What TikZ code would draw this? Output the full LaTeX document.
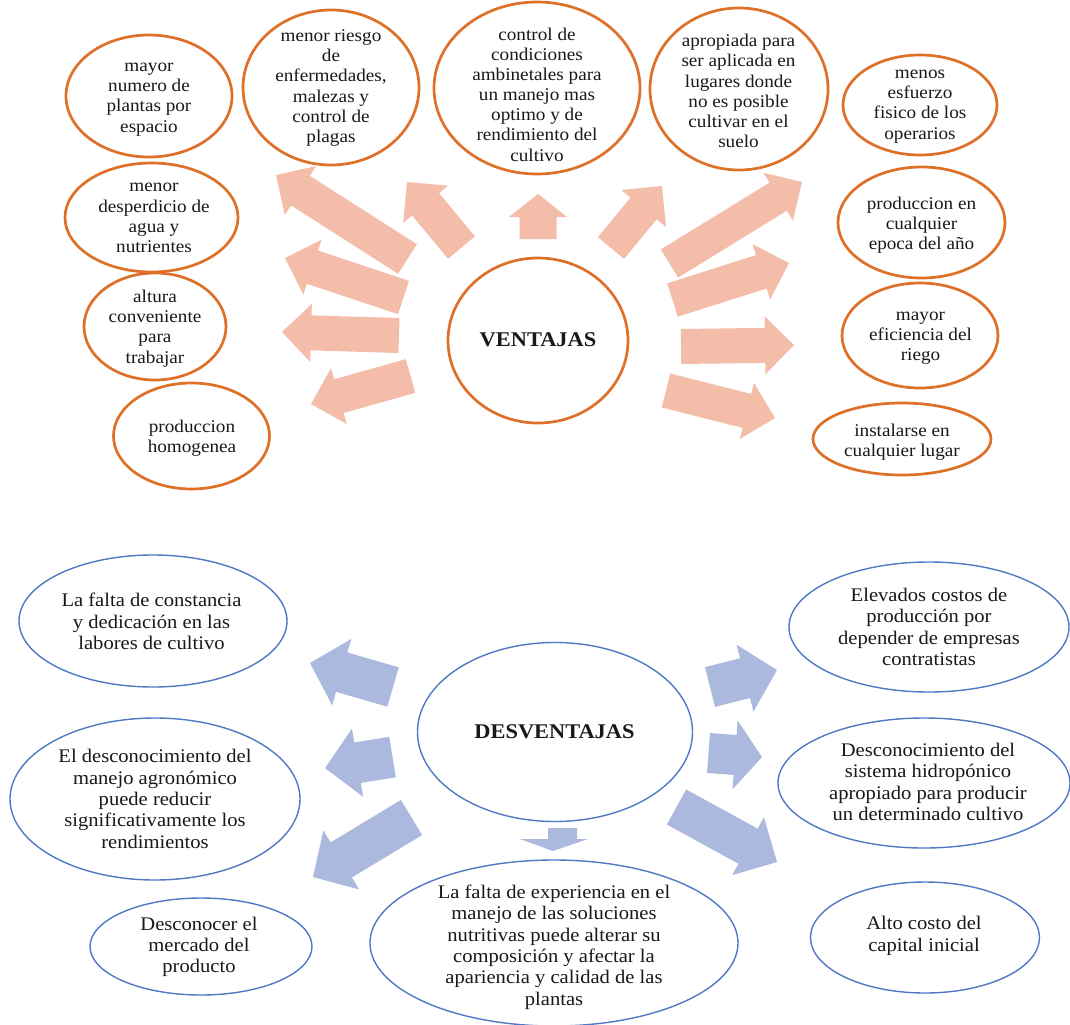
\documentclass[tikz,border=0pt]{standalone}
\usepackage{fontspec}
\setmainfont{Liberation Serif}[FakeStretch=1.07]
\usetikzlibrary{shapes.geometric,calc}

\definecolor{vline}{RGB}{222,112,40}
\definecolor{vfill}{RGB}{243,189,170}
\definecolor{dline}{RGB}{80,120,196}
\definecolor{dfill}{RGB}{170,185,221}
\definecolor{ink}{RGB}{25,25,25}

% block arrow: style, name, tail centre, tip, half shaft width, half head width, head length
\newcommand\blockarrow[7]{%
  \coordinate (#2-tail) at (#3);
  \coordinate (#2-tip) at (#4);
  \coordinate (#2-neck) at ($(#2-tip)!#7bp!(#2-tail)$);
  \fill[#1] ($(#2-tail)!#5bp!90:(#2-tip)$) -- ($(#2-neck)!#5bp!90:(#2-tip)$)
    -- ($(#2-neck)!#6bp!90:(#2-tip)$) -- (#2-tip)
    -- ($(#2-neck)!#6bp!-90:(#2-tip)$) -- ($(#2-neck)!#5bp!-90:(#2-tip)$)
    -- ($(#2-tail)!#5bp!-90:(#2-tip)$) -- cycle;
}

\tikzset{
  vbox/.style={ellipse, draw=vline, line width=2.7bp, fill=white, inner sep=0pt},
  dbox/.style={ellipse, draw=dline, line width=1.4bp, fill=white, inner sep=0pt},
  vtext/.style={align=center, inner sep=0pt, text=ink, font=\fontsize{18}{20.2}\selectfont},
  dtext/.style={align=center, inner sep=0pt, text=ink, font=\fontsize{19.3}{21.4}\selectfont},
  headtext/.style={inner sep=0pt, text=ink, font=\bfseries\fontsize{21}{24}\selectfont},
  varrow/.style={fill=vfill},
  darrow/.style={fill=dfill}
}

\begin{document}
\begin{tikzpicture}[x=1bp, y=-1bp]
\useasboundingbox[fill=white] (0,0) rectangle (1070,1025);

% ---------- VENTAJAS: arrows ----------
\blockarrow{varrow}{a1}{407.5,259}{276,175}{17.5}{29}{29}
\blockarrow{varrow}{a2}{403.5,297.5}{285,258}{17.5}{29}{29}
\blockarrow{varrow}{a3}{399,335.5}{282,332}{17.5}{29}{29}
\blockarrow{varrow}{a4}{410.5,376}{311,404}{17.5}{29}{29}
\blockarrow{varrow}{a5}{461.5,247.5}{407,182}{17.5}{29}{29}
\blockarrow{varrow}{a6}{538,239}{538,194}{18.5}{29}{23}
\blockarrow{varrow}{a7}{611,248}{662,186}{17}{29}{29}
\blockarrow{varrow}{a8}{669.5,263.5}{802,182}{16.5}{28}{28}
\blockarrow{varrow}{a9}{672.5,300}{789,263}{17.5}{29}{29}
\blockarrow{varrow}{a10}{681,346.5}{794,345}{17.5}{29}{29}
\blockarrow{varrow}{a11}{666,390.5}{775,418}{17.5}{29}{29}

% ---------- VENTAJAS: ellipses ----------
\node[vbox, minimum width=180bp, minimum height=165bp] (ven) at (538,340.5) {};
\node[headtext] (vent) at (538,340) {VENTAJAS};

\node[vbox, minimum width=166bp, minimum height=122bp] (e1) at (149,96) {};
\node[vtext] (e1t) at (149,99.5) {mayor\\numero de\\plantas por\\espacio};

\node[vbox, minimum width=176bp, minimum height=155bp] (e2) at (331,87.5) {};
\node[vtext] (e2t) at (331,88) {menor riesgo\\de\\enfermedades,\\malezas y\\control de\\plagas};

\node[vbox, minimum width=206bp, minimum height=172bp] (e3) at (537,88) {};
\node[vtext] (e3t) at (537,94.5) {control de\\condiciones\\ambinetales para\\un manejo mas\\optimo y de\\rendimiento del\\cultivo};

\node[vbox, minimum width=178bp, minimum height=162bp] (e4) at (739,89) {};
\node[vtext] (e4t) at (738.5,91) {apropiada para\\ser aplicada en\\lugares donde\\no es posible\\cultivar en el\\suelo};

\node[vbox, minimum width=154bp, minimum height=100bp] (e5) at (920,105) {};
\node[vtext] (e5t) at (920,106.5) {menos\\esfuerzo\\fisico de los\\operarios};

\node[vbox, minimum width=167bp, minimum height=111bp] (e6) at (921.5,222.5) {};
\node[vtext] (e6t) at (921.5,225) {produccion en\\cualquier\\epoca del año};

\node[vbox, minimum width=156bp, minimum height=105bp] (e7) at (920,335.5) {};
\node[vtext] (e7t) at (920.5,338) {mayor\\eficiencia del\\riego};

\node[vbox, minimum width=178bp, minimum height=72bp] (e8) at (902,439) {};
\node[vtext] (e8t) at (902,442) {instalarse en\\cualquier lugar};

\node[vbox, minimum width=173bp, minimum height=109bp] (e9) at (151.5,217.5) {};
\node[vtext] (e9t) at (154,218) {menor\\desperdicio de\\agua y\\nutrientes};

\node[vbox, minimum width=142bp, minimum height=107bp] (e10) at (155,326.5) {};
\node[vtext] (e10t) at (155,328.5) {altura\\conveniente\\para\\trabajar};

\node[vbox, minimum width=156bp, minimum height=106bp] (e11) at (191.5,436) {};
\node[vtext] (e11t) at (192,438) {produccion\\homogenea};

% ---------- DESVENTAJAS: arrows ----------
\blockarrow{darrow}{b1}{393,687}{310,663}{20.5}{34.5}{33}
\blockarrow{darrow}{b2}{392.5,757}{325,768}{20.5}{34.5}{33}
\blockarrow{darrow}{b3}{411.5,817.5}{313,877}{20.5}{34.5}{33}
\blockarrow{darrow}{b5}{710,687}{777,670}{20.5}{34.5}{33}
\blockarrow{darrow}{b6}{708.5,753}{762,757}{20}{34.5}{27}
\blockarrow{darrow}{b7}{676.5,807}{777,862}{20}{33}{33}
% short flat arrow below the centre
\fill[darrow] (548,828) -- (577,828) -- (577,839) -- (588,839) -- (553,851)
  -- (520,839) -- (548,839) -- cycle;

% ---------- DESVENTAJAS: ellipses ----------
\node[dbox, minimum width=275bp, minimum height=179bp] (des) at (555,732) {};
\node[headtext] (dest) at (554.5,732) {DESVENTAJAS};

\node[dbox, minimum width=268bp, minimum height=132bp] (d1) at (153,621) {};
\node[dtext] (d1t) at (151.5,621.5) {La falta de constancia\\y dedicación en las\\labores de cultivo};

\node[dbox, minimum width=290bp, minimum height=162bp] (d2) at (155,799) {};
\node[dtext] (d2t) at (155,799) {El desconocimiento del\\manejo agronómico\\puede reducir\\significativamente los\\rendimientos};

\node[dbox, minimum width=222bp, minimum height=97bp] (d3) at (201,946.5) {};
\node[dtext] (d3t) at (199,947) {Desconocer el\\mercado del\\producto};

\node[dbox, minimum width=368bp, minimum height=166bp] (d4) at (554,943) {};
\node[dtext] (d4t) at (554,947) {La falta de experiencia en el\\manejo de las soluciones\\nutritivas puede alterar su\\composición y afectar la\\apariencia y calidad de las\\plantas};

\node[dbox, minimum width=280bp, minimum height=130bp] (d5) at (929,627) {};
\node[dtext] (d5t) at (929,627) {Elevados costos de\\producción por\\depender de empresas\\contratistas};

\node[dbox, minimum width=292bp, minimum height=130bp] (d6) at (924,783) {};
\node[dtext] (d6t) at (928,782) {Desconocimiento del\\sistema hidropónico\\apropiado para producir\\un determinado cultivo};

\node[dbox, minimum width=229bp, minimum height=111bp] (d7) at (925,937.5) {};
\node[dtext] (d7t) at (924,936) {Alto costo del\\capital inicial};
\end{tikzpicture}
\end{document}
